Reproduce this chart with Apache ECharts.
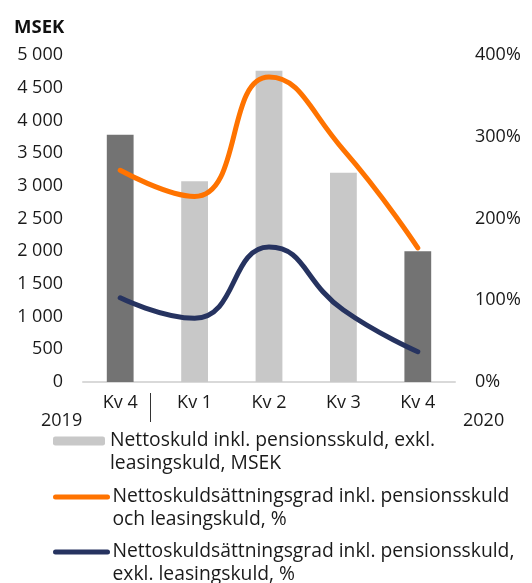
<!DOCTYPE html>
<html><head><meta charset="utf-8">
<script src="https://cdn.jsdelivr.net/npm/echarts@6/dist/echarts.min.js"></script>
<style>html,body{margin:0;padding:0;background:#fff}#c{width:532px;height:583px}</style>
</head><body><div id="c"></div>
<script>
const categories = ['Kv 4', 'Kv 1', 'Kv 2', 'Kv 3', 'Kv 4'];
const netDebtMSEK = [3780, 3070, 4760, 3200, 2000];
const gearingInclLeasing = [259, 227, 373, 284, 164];
const gearingExclLeasing = [103, 78, 165, 88, 37];
const leftTickLabels = ['0', '500', '1 000', '1 500', '2 000', '2 500', '3 000', '3 500', '4 000', '4 500', '5 000'];
const rightTickLabels = ['0%', '100%', '200%', '300%', '400%'];
const seriesNames = [
  'Nettoskuld inkl. pensionsskuld, exkl.\nleasingskuld, MSEK',
  'Nettoskuldsättningsgrad inkl. pensionsskuld\noch leasingskuld, %',
  'Nettoskuldsättningsgrad inkl. pensionsskuld,\nexkl. leasingskuld, %'
];

const FONT = 'Open Sans';
const chart = echarts.init(document.getElementById('c'), null, {renderer: 'canvas'});
const legendBase = {
  orient: 'vertical', padding: 0, itemWidth: 52, itemHeight: 9, itemGap: 0,
  formatter: name => '\n' + name,
  textStyle: {fontFamily: FONT, fontSize: 19.3, color: '#1a1a1a', lineHeight: 23},
  lineStyle: {width: 5, cap: 'round'},
  selectedMode: false
};
chart.setOption({
  animation: false,
  textStyle: {fontFamily: FONT},
  title: {text: 'MSEK', left: 14, top: 18, padding: 0,
    textStyle: {fontFamily: FONT, fontWeight: 'bold', fontSize: 18.5, color: '#111'}},
  grid: {left: 83, right: 77, top: 55, bottom: 201, containLabel: false},
  legend: [
    Object.assign({}, legendBase, {left: 53, top: 406.5, data: [seriesNames[0]]}),
    Object.assign({}, legendBase, {left: 53, top: 462.5,
      data: [{name: seriesNames[1], itemStyle: {opacity: 0}}]}),
    Object.assign({}, legendBase, {left: 53, top: 517.5,
      data: [{name: seriesNames[2], itemStyle: {opacity: 0}}]})
  ],
  xAxis: {
    type: 'category', data: categories,
    axisLine: {lineStyle: {color: '#d9d9d9', width: 2}},
    axisTick: {show: false},
    axisLabel: {fontFamily: FONT, fontSize: 18, color: '#1a1a1a', margin: 12}
  },
  yAxis: [
    {type: 'value', min: 0, max: 5000, interval: 500,
     splitLine: {show: false}, axisLine: {show: false}, axisTick: {show: false},
     axisLabel: {fontFamily: FONT, fontSize: 18, color: '#1a1a1a', margin: 20,
       formatter: v => leftTickLabels[Math.round(v / 500)]}},
    {type: 'value', min: 0, max: 400, interval: 100,
     splitLine: {show: false}, axisLine: {show: false}, axisTick: {show: false},
     axisLabel: {fontFamily: FONT, fontSize: 18, color: '#1a1a1a', margin: 20,
       formatter: v => rightTickLabels[Math.round(v / 100)]}}
  ],
  series: [
    {name: seriesNames[0], type: 'bar', barWidth: '36%', yAxisIndex: 0,
     itemStyle: {color: '#c8c8c8'},
     data: netDebtMSEK.map((v, i) => ({value: v,
       itemStyle: {color: (i === 0 || i === netDebtMSEK.length - 1) ? '#737373' : '#c8c8c8'}}))},
    {name: seriesNames[1], type: 'line', yAxisIndex: 1, smooth: 0.5, symbol: 'none',
     itemStyle: {color: '#ff7300'},
     lineStyle: {color: '#ff7300', width: 5, cap: 'round'}, data: gearingInclLeasing},
    {name: seriesNames[2], type: 'line', yAxisIndex: 1, smooth: 0.5, symbol: 'none',
     itemStyle: {color: '#263360'},
     lineStyle: {color: '#263360', width: 5, cap: 'round'}, data: gearingExclLeasing}
  ],
  graphic: [
    {type: 'text', left: 41, top: 412, style: {text: '2019', fontFamily: FONT, fontSize: 18, fill: '#1a1a1a'}},
    {type: 'text', left: 463, top: 412, style: {text: '2020', fontFamily: FONT, fontSize: 18, fill: '#1a1a1a'}},
    {type: 'line', shape: {x1: 150.5, y1: 393, x2: 150.5, y2: 422}, style: {stroke: '#333', lineWidth: 1}}
  ]
});
</script></body></html>
